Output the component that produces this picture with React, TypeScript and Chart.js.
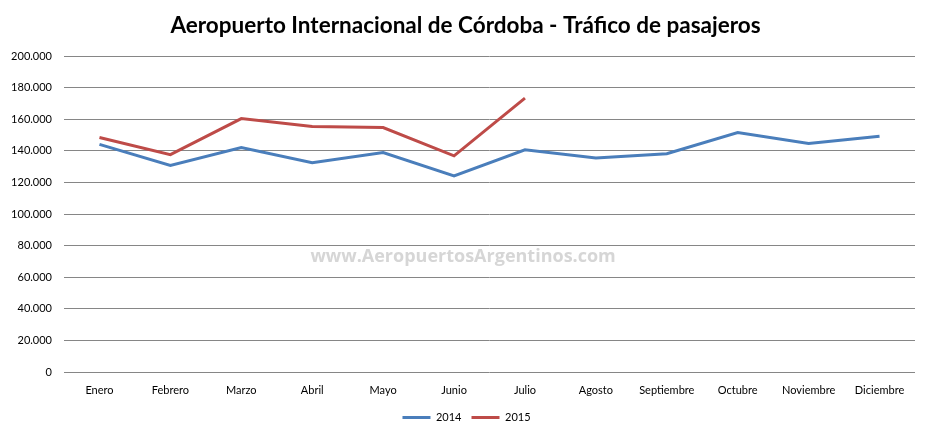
import React, { useEffect, useRef } from "react";
import { Chart, registerables } from "chart.js";

Chart.register(...registerables);

const TITLE = "Aeropuerto Internacional de Córdoba - Tráfico de pasajeros";
const WATERMARK = "www.AeropuertosArgentinos.com";
const categories = [
  "Enero", "Febrero", "Marzo", "Abril", "Mayo", "Junio",
  "Julio", "Agosto", "Septiembre", "Octubre", "Noviembre", "Diciembre",
];
const series2014Label = "2014";
const series2015Label = "2015";
const values2014 = [144100, 130700, 142000, 132500, 138900, 124100, 140600, 135400, 138200, 151600, 144600, 149200];
const values2015 = [148400, 137600, 160400, 155400, 154700, 136800, 173300];
const yMin = 0;
const yMax = 200000;
const yStep = 20000;

const BLUE = "#4A7EBB";
const RED = "#BE4B48";
const FONT = "Lato, 'Open Sans', sans-serif";

const fmt = (v: number) => {
  const s = Math.round(v).toString();
  return s.replace(/\B(?=(\d{3})+(?!\d))/g, ".");
};

const watermarkPlugin = {
  id: "watermark",
  beforeDatasetsDraw(chart: any) {
    const { ctx, chartArea } = chart;
    ctx.save();
    ctx.font = `bold 18px 'Open Sans', sans-serif`;
    ctx.fillStyle = "#d6d6d6";
    ctx.textAlign = "center";
    ctx.textBaseline = "middle";
    const x = chartArea.left + (chartArea.right - chartArea.left) * 0.469;
    const y = chartArea.top + (chartArea.bottom - chartArea.top) * 0.637;
    ctx.fillText(WATERMARK, x, y);
    ctx.restore();
  },
};

const boxShiftPlugin = {
  id: "boxShift",
  afterLayout(chart: any) {
    const lg = chart.legend;
    if (lg) {
      lg.left += 9;
      lg.right += 9;
    }
    const tb = chart.titleBlock;
    if (tb) {
      tb.left += 8;
      tb.right += 8;
    }
  },
};

export default function App() {
  const ref = useRef<HTMLCanvasElement>(null);
  useEffect(() => {
    if (!ref.current) return;
    const chart = new Chart(ref.current, {
      type: "line",
      data: {
        labels: categories,
        datasets: [
          {
            label: series2014Label,
            data: values2014,
            borderColor: BLUE,
            backgroundColor: BLUE,
            borderWidth: 3,
            pointRadius: 0,
            tension: 0,
          },
          {
            label: series2015Label,
            data: values2015,
            borderColor: RED,
            backgroundColor: RED,
            borderWidth: 3,
            pointRadius: 0,
            tension: 0,
          },
        ],
      },
      options: {
        responsive: false,
        animation: false,
        layout: { padding: { left: 0, right: 16, top: 0, bottom: 5 } },
        plugins: {
          title: {
            display: true,
            text: TITLE,
            color: "#000",
            font: { family: FONT, size: 22.5, weight: "bold" },
            padding: { top: 12, bottom: 17 },
          },
          legend: {
            position: "bottom",
            labels: {
              color: "#000",
              font: { family: FONT, size: 11 },
              boxWidth: 28,
              boxHeight: 3,
              padding: 10,
              generateLabels: (chart: any) =>
                chart.data.datasets.map((ds: any, i: number) => ({
                  text: ds.label,
                  fillStyle: ds.borderColor,
                  strokeStyle: ds.borderColor,
                  lineWidth: 0,
                  hidden: false,
                  datasetIndex: i,
                  fontColor: "#000",
                })),
            },
          },
          tooltip: { enabled: false },
        },
        scales: {
          x: {
            offset: true,
            grid: { display: false, drawTicks: false },
            border: { display: false },
            ticks: {
              color: "#000",
              font: { family: FONT, size: 11 },
              padding: 12,
              maxRotation: 0,
              autoSkip: false,
            },
            afterFit: (scale: any) => {
              scale.height = 30;
            },
          },
          y: {
            min: yMin,
            max: yMax,
            grid: { color: "#868686", lineWidth: 1, drawTicks: false },
            border: { display: false },
            ticks: {
              stepSize: yStep,
              color: "#000",
              font: { family: FONT, size: 11 },
              padding: 12,
              callback: (v: any) => fmt(Number(v)),
            },
            afterFit: (scale: any) => {
              scale.width = 64;
            },
          },
        },
      },
      plugins: [watermarkPlugin, boxShiftPlugin],
    });
    return () => chart.destroy();
  }, []);
  return (
    <div style={{ position: "absolute", left: 0, top: 0, width: 931, height: 438, background: "#fff" }}>
      <canvas ref={ref} width={931} height={438} />
    </div>
  );
}
